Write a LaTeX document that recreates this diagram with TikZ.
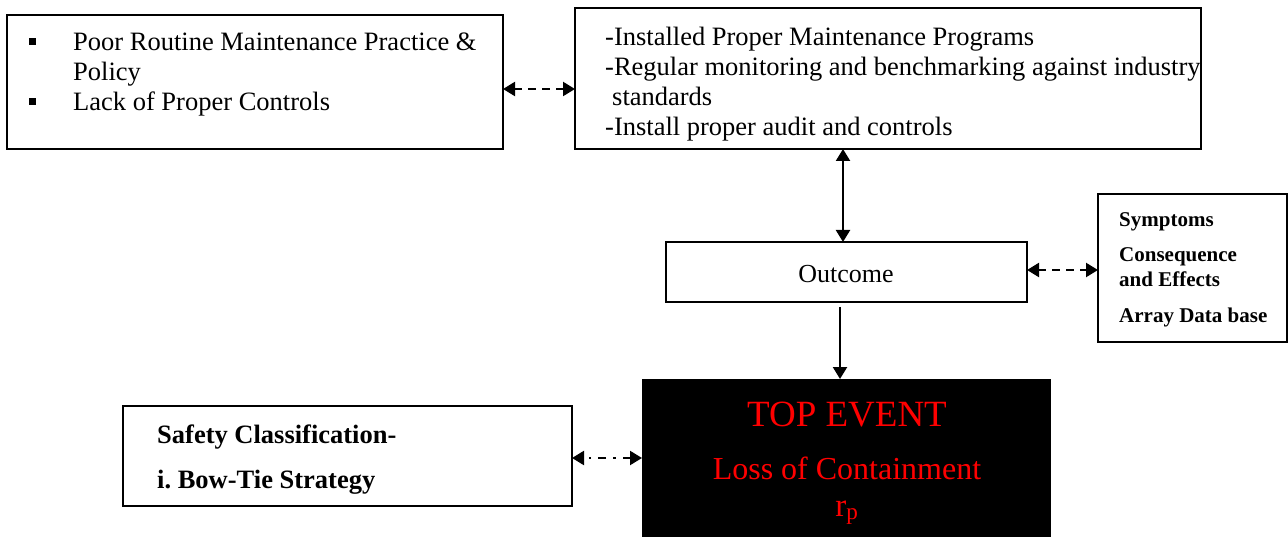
\documentclass[tikz,border=0pt]{standalone}
\usepackage{fontspec}
\setmainfont{Liberation Serif}
\usetikzlibrary{arrows.meta}

\begin{document}
\frenchspacing
\begin{tikzpicture}[x=1pt,y=-1pt,
  box/.style={draw=black, line width=1.6pt, inner sep=0pt, outer sep=0pt, anchor=north west},
  txt/.style={inner sep=0pt, anchor=base west},
  bullet/.style={fill=black, inner sep=0pt, minimum size=7pt},
  link/.style={line width=2.2pt},
  both/.style={{Triangle[length=12pt,width=14pt]}-{Triangle[length=12pt,width=14pt]}},
  one/.style={-{Triangle[length=12pt,width=14pt]}},
  dashlink/.style={dash pattern=on 8pt off 6pt},
  dotdashlink/.style={dash pattern=on 8pt off 7pt on 2.5pt off 7pt},
  bodyfont/.style={font=\fontsize{26.5}{30}\selectfont},
  smallbold/.style={font=\fontsize{21}{24}\selectfont\bfseries},
  midbold/.style={font=\fontsize{26.5}{30}\selectfont\bfseries},
  redtext/.style={text=red, inner sep=0pt, anchor=base}]
\useasboundingbox (0,0) rectangle (1288,537);

% boxes
\node[box, minimum width=496pt, minimum height=134pt] (causes) at (7,15) {};
\node[box, minimum width=626pt, minimum height=141pt] (actions) at (575,8) {};
\node[box, minimum width=361pt, minimum height=60pt] (outcome) at (666,242) {};
\node[box, minimum width=189pt, minimum height=148pt] (symptoms) at (1098,194) {};
\node[box, draw=none, fill=black, minimum width=409pt, minimum height=158pt] (top) at (642,379) {};
\node[box, minimum width=449pt, minimum height=100pt] (safety) at (123,406) {};

% causes
\node[bullet] (b1) at (32,42) {};
\node[bullet] (b2) at (32,102) {};
\node[txt, bodyfont] (c1) at (73,51) {Poor Routine Maintenance Practice \&};
\node[txt, bodyfont] (c2) at (73,81) {Policy};
\node[txt, bodyfont] (c3) at (73,111) {Lack of Proper Controls};

% remedial actions
\node[txt, bodyfont] (r1) at (605,46) {-Installed Proper Maintenance Programs};
\node[txt, bodyfont] (r2) at (605,76) {-Regular monitoring and benchmarking against industry};
\node[txt, bodyfont] (r3) at (612,106) {standards};
\node[txt, bodyfont] (r4) at (605,136) {-Install proper audit and controls};

% outcome
\node[inner sep=0pt, anchor=base, font=\fontsize{26}{30}\selectfont] (o1) at (846,283) {Outcome};

% symptoms
\node[txt, smallbold] (s1) at (1119,227) {Symptoms};
\node[txt, smallbold] (s2) at (1119,262) {Consequence};
\node[txt, smallbold] (s3) at (1119,287) {and Effects};
\node[txt, smallbold] (s4) at (1119,323) {Array Data base};

% safety classification
\node[txt, midbold] (f1) at (157,443) {Safety Classification-};
\node[txt, midbold] (f2) at (157,488) {i. Bow-Tie Strategy};

% top event
\node[redtext, font=\fontsize{37}{40}\selectfont] (t1) at (847,426) {TOP EVENT};
\node[redtext, font=\fontsize{32}{36}\selectfont] (t2) at (847,479) {Loss of Containment};
\node[redtext, font=\fontsize{33}{36}\selectfont] (t3) at (847,516) {r\textsubscript{p}};

% connectors
\draw[link, both, dashlink] (causes.east |- 0,89) -- (actions.west |- 0,89);
\draw[link, both] (actions.south -| 843,0) -- (outcome.north -| 843,0);
\draw[link, both, dashlink] (outcome.east |- 0,270) -- (symptoms.west |- 0,270);
\draw[link, one] ([yshift=-5pt]outcome.south -| 840,0) -- (top.north -| 840,0);
\draw[link, both, dotdashlink] (top.west |- 0,458) -- (safety.east |- 0,458);
\end{tikzpicture}
\end{document}
